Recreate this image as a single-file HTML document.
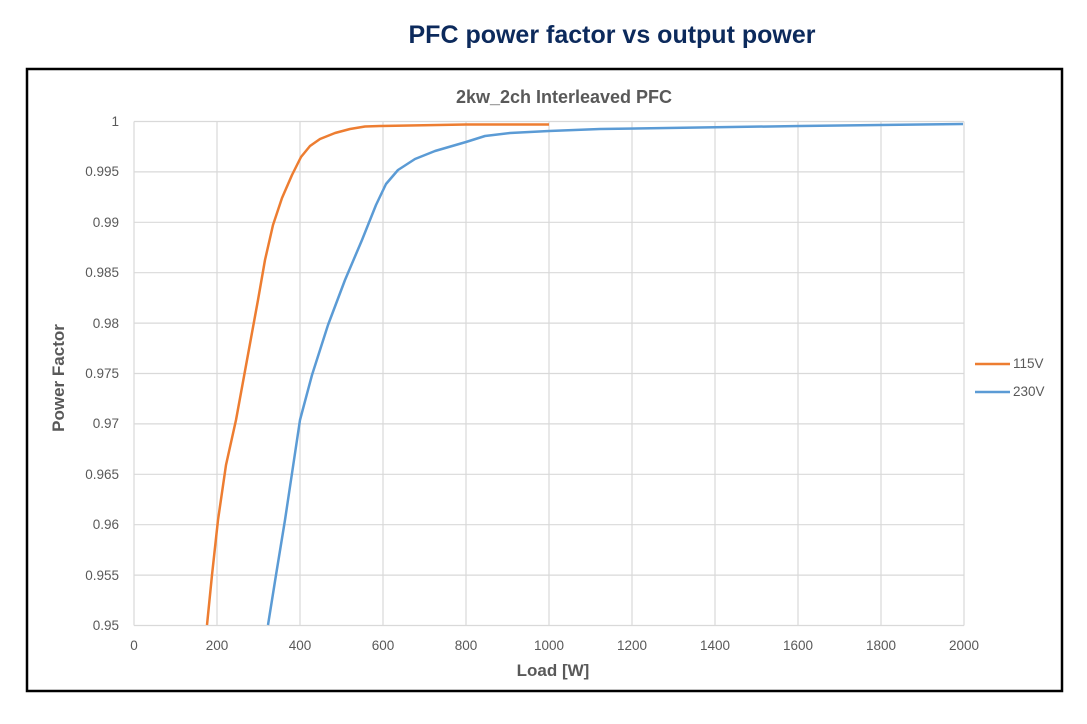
<!DOCTYPE html>
<html><head><meta charset="utf-8"><style>
body{margin:0;background:#fff;width:1087px;height:719px;overflow:hidden;font-family:"Liberation Sans",sans-serif}
</style></head><body>
<svg width="1087" height="719" xmlns="http://www.w3.org/2000/svg">
<text x="612" y="43" text-anchor="middle" font-size="25" font-weight="bold" fill="#0c2a5c" font-family="Liberation Sans, sans-serif">PFC power factor vs output power</text>
<rect x="27" y="69" width="1035" height="622" fill="#fff" stroke="#000" stroke-width="2.5"/>
<text x="564" y="103" text-anchor="middle" font-size="18" font-weight="bold" fill="#595959" font-family="Liberation Sans, sans-serif">2kw_2ch Interleaved PFC</text>
<g stroke="#d9d9d9" stroke-width="1.2">
<line x1="134" y1="121.5" x2="964" y2="121.5"/><line x1="134" y1="171.9" x2="964" y2="171.9"/><line x1="134" y1="222.3" x2="964" y2="222.3"/><line x1="134" y1="272.7" x2="964" y2="272.7"/><line x1="134" y1="323.1" x2="964" y2="323.1"/><line x1="134" y1="373.5" x2="964" y2="373.5"/><line x1="134" y1="423.9" x2="964" y2="423.9"/><line x1="134" y1="474.3" x2="964" y2="474.3"/><line x1="134" y1="524.7" x2="964" y2="524.7"/><line x1="134" y1="575.1" x2="964" y2="575.1"/>
<line x1="217" y1="121.5" x2="217" y2="625.5"/><line x1="300" y1="121.5" x2="300" y2="625.5"/><line x1="383" y1="121.5" x2="383" y2="625.5"/><line x1="466" y1="121.5" x2="466" y2="625.5"/><line x1="549" y1="121.5" x2="549" y2="625.5"/><line x1="632" y1="121.5" x2="632" y2="625.5"/><line x1="715" y1="121.5" x2="715" y2="625.5"/><line x1="798" y1="121.5" x2="798" y2="625.5"/><line x1="881" y1="121.5" x2="881" y2="625.5"/><line x1="964" y1="121.5" x2="964" y2="625.5"/>
<line x1="134" y1="121.5" x2="134" y2="625.5"/><line x1="134" y1="625.5" x2="964" y2="625.5"/>
</g>
<g font-size="13.5" fill="#595959" text-anchor="end" font-family="Liberation Sans, sans-serif">
<text x="119" y="126">1</text><text x="119" y="176">0.995</text><text x="119" y="227">0.99</text><text x="119" y="277">0.985</text><text x="119" y="328">0.98</text><text x="119" y="378">0.975</text><text x="119" y="428">0.97</text><text x="119" y="479">0.965</text><text x="119" y="529">0.96</text><text x="119" y="580">0.955</text><text x="119" y="630">0.95</text>
</g>
<g font-size="13.5" fill="#595959" text-anchor="middle" font-family="Liberation Sans, sans-serif">
<text x="134" y="650">0</text><text x="217" y="650">200</text><text x="300" y="650">400</text><text x="383" y="650">600</text><text x="466" y="650">800</text><text x="549" y="650">1000</text><text x="632" y="650">1200</text><text x="715" y="650">1400</text><text x="798" y="650">1600</text><text x="881" y="650">1800</text><text x="964" y="650">2000</text>
</g>
<text x="553" y="676" text-anchor="middle" font-size="17" font-weight="bold" fill="#595959" font-family="Liberation Sans, sans-serif">Load [W]</text>
<text transform="translate(64,378) rotate(-90)" text-anchor="middle" font-size="17" font-weight="bold" fill="#595959" font-family="Liberation Sans, sans-serif">Power Factor</text>
<path d="M207,625 L212,575 L218,520 L226,465 L236,420 L247,360 L258,300 L265,260 L273,225 L282,198 L292,175 L301,157 L310,146 L320,139 L335,133 L350,129 L365,126.5 L380,126 L466,124.5 L549,124.5" fill="none" stroke="#ed7d31" stroke-width="2.5" stroke-linejoin="round"/>
<path d="M268,625 L276,575 L285,520 L300,420 L312,375 L328,325 L345,280 L362,240 L376,205 L386,184 L398,170 L415,159 L435,151 L466,142 L485,136 L510,133 L549,131 L600,129 L800,126 L963,124" fill="none" stroke="#5b9bd5" stroke-width="2.5" stroke-linejoin="round"/>
<line x1="975" y1="364" x2="1010" y2="364" stroke="#ed7d31" stroke-width="2.5"/>
<text x="1013" y="368" font-size="13.5" fill="#595959" font-family="Liberation Sans, sans-serif">115V</text>
<line x1="975" y1="392" x2="1010" y2="392" stroke="#5b9bd5" stroke-width="2.5"/>
<text x="1013" y="396" font-size="13.5" fill="#595959" font-family="Liberation Sans, sans-serif">230V</text>
</svg>
</body></html>
